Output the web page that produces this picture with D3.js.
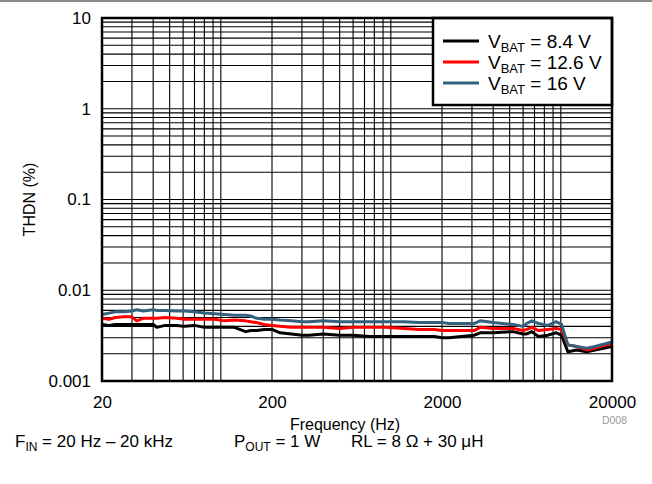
<!DOCTYPE html>
<html>
<head>
<meta charset="utf-8">
<script src="https://cdn.jsdelivr.net/npm/d3@7"></script>
<style>
  body { margin: 0; background: #fff; }
  svg text { font-family: "Liberation Sans", Arial, sans-serif; fill: #000; }
</style>
</head>
<body>
<div id="chart"></div>
<script>
// THD+N vs frequency, three battery voltages
const freqs = [20, 22, 24, 27, 30, 32, 35, 40, 42, 47, 55, 61, 70, 80, 92, 105, 120, 140, 150, 163, 180, 200,
  223, 260, 300, 330, 400, 500, 600, 750, 930, 1200, 1460, 1800, 2000, 2200, 2600, 3100, 3350, 4000, 5250,
  6000, 6300, 6740, 7400, 8400, 9400, 10100, 11000, 12400, 14200, 15900, 20000];

const thdn84 = [.0042, .0041, .0042, .0042, .0042, .0042, .0042, .0042, .0039, .0041, .0041, .0040, .0041, .0039, .0039, .0039, .0039,
  .0035, .0036, .0036, .0037, .0037, .0034, .0033, .0032, .0032, .0033, .0032, .0032, .0031, .0031, .0031, .0031, .0031,
  .0030, .0030, .0031, .0032, .0034, .0034, .0035, .0033, .0033, .0035, .0031, .0032, .0034, .0032, .0021, .0022,
  .0021, .0022, .0024];

const thdn126 = [.0049, .0048, .0050, .0051, .0051, .0046, .0049, .0049, .0049, .0050, .0049, .0048, .0048, .0048, .0048, .0046, .0047,
  .0046, .0045, .0044, .0042, .0041, .0040, .0039, .0039, .0039, .0039, .0038, .0039, .0039, .0039, .0038, .0037, .0037,
  .0036, .0036, .0036, .0036, .0039, .0038, .0038, .0036, .0037, .0039, .0036, .0037, .0038, .0037, .0025, .0024,
  .0022, .0023, .0026];

const thdn16 = [.0054, .0056, .0058, .0058, .0059, .0061, .0059, .0061, .0060, .0060, .0059, .0059, .0058, .0056, .0055, .0054, .0053,
  .0053, .0052, .0049, .0048, .0048, .0047, .0046, .0045, .0045, .0046, .0045, .0045, .0045, .0045, .0045, .0044, .0044,
  .0044, .0043, .0043, .0043, .0046, .0044, .0042, .0040, .0043, .0046, .0043, .0041, .0045, .0042, .0025, .0024,
  .0023, .0024, .0027];

const seriesNames = ["8.4 V", "12.6 V", "16 V"];
const seriesColors = ["#000000", "#ff0000", "#33617e"];
const xTicks = [20, 200, 2000, 20000];
const yTicks = [0.001, 0.01, 0.1, 1, 10];

const width = 652, height = 484;
const margin = {top: 18, right: 40, bottom: 103, left: 102};

const svg = d3.select("#chart").append("svg")
  .attr("width", width)
  .attr("height", height);

// thin grey rule along the top of the figure
svg.append("line")
  .attr("x1", 0).attr("x2", width).attr("y1", 1).attr("y2", 1)
  .attr("stroke", "#8c8c8c").attr("stroke-width", 2);

const x = d3.scaleLog().domain([20, 20000]).range([margin.left, width - margin.right]);
const y = d3.scaleLog().domain([0.001, 10]).range([height - margin.bottom, margin.top]);

// grid
let xGrid = [];
[10, 100, 1000, 10000].forEach(d => { for (let k = 1; k <= 9; k++) xGrid.push(d * k); });
xGrid = xGrid.filter(v => v > 20 && v < 20000);
let yGrid = [];
[0.001, 0.01, 0.1, 1].forEach(d => { for (let k = 1; k <= 9; k++) yGrid.push(d * k); });
yGrid = yGrid.filter(v => v > 0.001 * 1.0001 && v < 10 * 0.9999);

const grid = svg.append("g").attr("class", "grid");
grid.selectAll("line.v").data(xGrid).enter().append("line")
  .attr("x1", d => x(d)).attr("x2", d => x(d))
  .attr("y1", y(10)).attr("y2", y(0.001))
  .attr("stroke", "#000").attr("stroke-width", 1.1);
grid.selectAll("line.h").data(yGrid).enter().append("line")
  .attr("x1", x(20)).attr("x2", x(20000))
  .attr("y1", d => y(d)).attr("y2", d => y(d))
  .attr("stroke", "#000").attr("stroke-width", 1.1);

// curves
const rows = [thdn84, thdn126, thdn16];
const line = d3.line()
  .x(d => x(d[0]))
  .y(d => y(d[1]));

rows.forEach((vals, i) => {
  svg.append("path")
    .datum(freqs.map((f, j) => [f, vals[j]]))
    .attr("d", line)
    .attr("fill", "none")
    .attr("stroke", seriesColors[i])
    .attr("stroke-width", 3)
    .attr("stroke-linejoin", "round");
});

// legend
const lg = svg.append("g").attr("transform", "translate(433,18)");
lg.append("rect")
  .attr("width", 179).attr("height", 87)
  .attr("fill", "#fff").attr("stroke", "#000").attr("stroke-width", 2.5);
seriesNames.forEach((name, i) => {
  const ry = 23 + i * 21;
  lg.append("line")
    .attr("x1", 10).attr("x2", 46).attr("y1", ry).attr("y2", ry)
    .attr("stroke", seriesColors[i]).attr("stroke-width", 3);
  const t = lg.append("text").attr("x", 55).attr("y", ry + 7).style("font-size", "19px");
  t.append("tspan").text("V");
  t.append("tspan").attr("dy", 4).style("font-size", "13px").text("BAT");
  t.append("tspan").attr("dy", -4).text(" = " + name);
});

// plot frame
svg.append("rect")
  .attr("x", x(20)).attr("y", y(10))
  .attr("width", x(20000) - x(20)).attr("height", y(0.001) - y(10))
  .attr("fill", "none").attr("stroke", "#000").attr("stroke-width", 2.5);

// axes (labels only, frame drawn above)
const xAxis = svg.append("g")
  .attr("transform", `translate(0,${y(0.001)})`)
  .call(d3.axisBottom(x).tickValues(xTicks).tickFormat(d3.format("d")).tickSize(0).tickPadding(15));
xAxis.select(".domain").remove();
xAxis.selectAll("text").style("font-size", "17px").attr("fill", "#000");

const yAxis = svg.append("g")
  .attr("transform", `translate(${x(20)},0)`)
  .call(d3.axisLeft(y).tickValues(yTicks).tickFormat(d => d >= 1 ? d3.format("d")(d) : String(d)).tickSize(0).tickPadding(11));
yAxis.select(".domain").remove();
yAxis.selectAll("text").style("font-size", "17px").attr("fill", "#000");
svg.selectAll(".tick text").style("font-family", "'Liberation Sans', Arial, sans-serif");

svg.append("text")
  .attr("x", 345).attr("y", 430)
  .attr("text-anchor", "middle").style("font-size", "16px")
  .text("Frequency (Hz)");

svg.append("text")
  .attr("transform", `translate(35,${(y(10) + y(0.001)) / 2}) rotate(-90)`)
  .attr("text-anchor", "middle").style("font-size", "16px")
  .text("THDN (%)");

svg.append("text")
  .attr("x", 627).attr("y", 424)
  .attr("text-anchor", "end").style("font-size", "10.5px").style("fill", "#999")
  .text("D008");

// conditions line under the chart
function subText(xPos, main, sub, rest) {
  const t = svg.append("text").attr("x", xPos).attr("y", 447).style("font-size", "17px");
  t.append("tspan").text(main);
  if (sub) {
    t.append("tspan").attr("dy", 4).style("font-size", "12px").text(sub);
    t.append("tspan").attr("dy", -4).text(rest);
  }
}
subText(15, "F", "IN", " = 20 Hz \u2013 20 kHz");
subText(234, "P", "OUT", " = 1 W");
subText(351, "RL = 8 \u03a9 + 30 \u03bcH", null, null);
</script>
</body>
</html>
